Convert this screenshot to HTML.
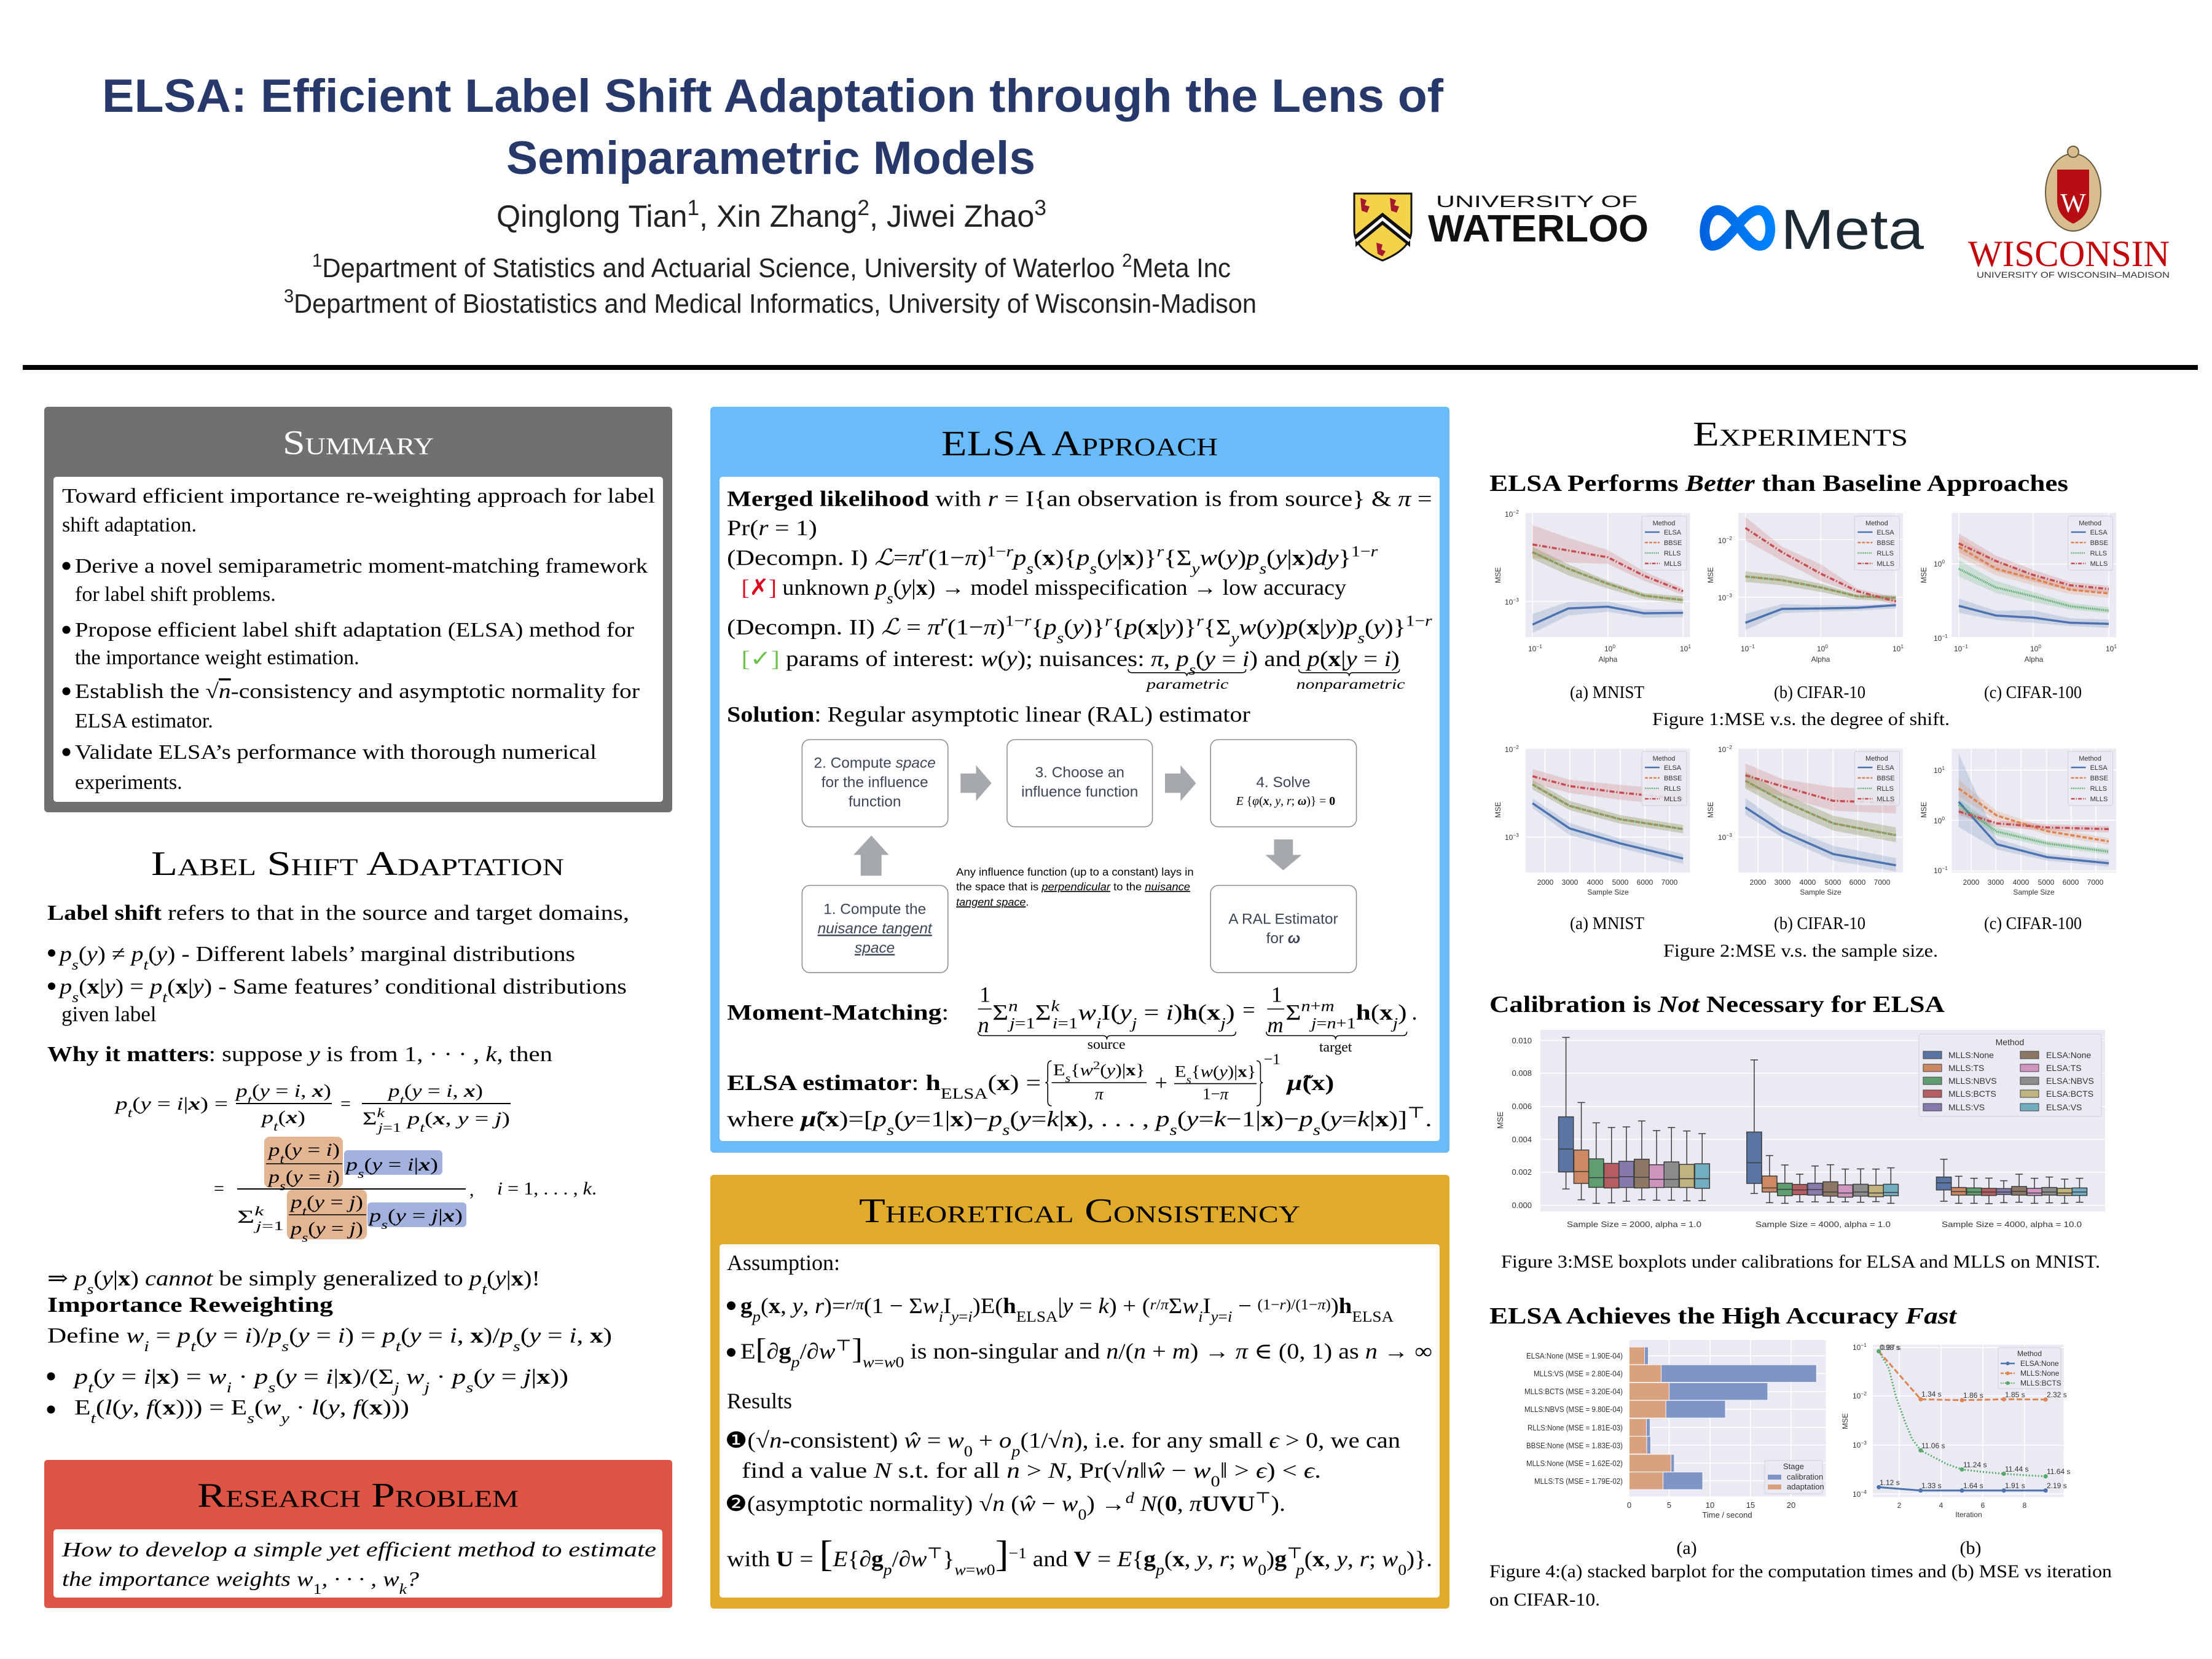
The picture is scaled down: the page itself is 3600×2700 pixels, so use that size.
<!DOCTYPE html>
<html><head><meta charset="utf-8"><title>ELSA poster</title>
<style>
html,body{margin:0;padding:0;background:#fff;}
svg{display:block;}
text{font-family:"Liberation Serif","DejaVu Serif",serif;fill:#000;}
.sans{font-family:"Liberation Sans","DejaVu Sans",sans-serif;}
.i{font-style:italic}
.b{font-weight:bold}
.sb{font-size:70%;baseline-shift:sub}
.sp{font-size:70%;baseline-shift:super}
.sc{font-variant:small-caps}
.z *{vector-effect:non-scaling-stroke}
.tk{font-family:"Liberation Sans","DejaVu Sans",sans-serif;fill:#333;}
.fc{font-family:"Liberation Sans","DejaVu Sans",sans-serif;fill:#3C4658;}
</style></head>
<body>
<svg xmlns="http://www.w3.org/2000/svg" width="3600" height="2700" viewBox="0 0 3600 2700">
<rect width="3600" height="2700" fill="#fff"/>

<!-- ================= HEADER ================= -->
<text x="166" y="182" class="sans b" font-size="76" fill="#27386A" style="fill:#27386A" textLength="2183" lengthAdjust="spacingAndGlyphs">ELSA: Efficient Label Shift Adaptation through the Lens of</text>
<text x="824" y="283" class="sans b" font-size="76" style="fill:#27386A" textLength="861" lengthAdjust="spacingAndGlyphs">Semiparametric Models</text>
<text x="808" y="369" class="sans" font-size="50" style="fill:#222" textLength="895" lengthAdjust="spacingAndGlyphs">Qinglong Tian<tspan class="sp">1</tspan>, Xin Zhang<tspan class="sp">2</tspan>, Jiwei Zhao<tspan class="sp">3</tspan></text>
<text x="508" y="451" class="sans" font-size="44" style="fill:#222" textLength="1495" lengthAdjust="spacingAndGlyphs"><tspan class="sp">1</tspan>Department of Statistics and Actuarial Science, University of Waterloo <tspan class="sp">2</tspan>Meta Inc</text>
<text x="462" y="509" class="sans" font-size="44" style="fill:#222" textLength="1583" lengthAdjust="spacingAndGlyphs"><tspan class="sp">3</tspan>Department of Biostatistics and Medical Informatics, University of Wisconsin-Madison</text>

<!-- Waterloo logo -->
<path d="M2204,315 H2297 V375 Q2297,405 2250,424 Q2204,405 2204,375 Z" fill="#F4D34B" stroke="#111" stroke-width="3"/>
<polygon points="2206,382 2250,346 2295,382 2295,402 2250,366 2206,402" fill="#111"/>
<polyline points="2207,392 2250,356 2294,392" fill="none" stroke="#fff" stroke-width="5"/>
<path d="M2214,322 l10,4 l-3,8 l8,2 l-4,10 l-9,-3 z M2262,322 l10,4 l-3,8 l8,2 l-4,10 l-9,-3 z M2240,395 l10,3 l-2,8 l7,3 l-5,8 l-8,-4 z" fill="#A6192E"/>
<text x="2337" y="337" class="sans" font-size="27" textLength="328" lengthAdjust="spacingAndGlyphs" style="fill:#111">UNIVERSITY OF</text>
<text x="2324" y="393" class="sans b" font-size="62" textLength="359" lengthAdjust="spacingAndGlyphs" style="fill:#111">WATERLOO</text>

<!-- Meta logo -->
<defs>
<linearGradient id="mg" x1="0" y1="0" x2="1" y2="0"><stop offset="0" stop-color="#0064E0"/><stop offset="1" stop-color="#0082FB"/></linearGradient>
</defs>
<path d="M2787,400 C2768,400 2770,342 2796,342 C2822,342 2842,400 2864,400 C2888,400 2886,342 2862,342 C2836,342 2812,400 2787,400 Z" fill="none" stroke="url(#mg)" stroke-width="16" stroke-linejoin="round"/>
<text x="2898" y="405" class="sans" font-size="92" textLength="233" lengthAdjust="spacingAndGlyphs" style="fill:#1C2B33">Meta</text>

<!-- Wisconsin logo -->
<ellipse cx="3374" cy="313" rx="45" ry="63" fill="#D8BE8E" stroke="#6B5B3E" stroke-width="2"/>
<circle cx="3374" cy="247" r="9" fill="#D8BE8E" stroke="#6B5B3E" stroke-width="2"/>
<path d="M3348,276 H3400 V326 Q3400,352 3374,364 Q3348,352 3348,326 Z" fill="#B70E14"/>
<text x="3374" y="345" font-size="44" text-anchor="middle" style="fill:#fff">W</text>
<text x="3203" y="433" font-size="60" textLength="328" lengthAdjust="spacingAndGlyphs" style="fill:#C5050C">WISCONSIN</text>
<text x="3217" y="452" class="sans" font-size="14" textLength="314" lengthAdjust="spacingAndGlyphs" style="fill:#333">UNIVERSITY OF WISCONSIN–MADISON</text>

<rect x="37" y="594" width="3540" height="8" fill="#000"/>

<!-- ================= LEFT COLUMN ================= -->
<!-- Summary -->
<rect x="72" y="662" width="1022" height="660" rx="6" fill="#6F706F"/>
<text x="460" y="739" font-size="56" class="sc" style="fill:#fff" textLength="246" lengthAdjust="spacingAndGlyphs">Summary</text>
<rect x="87" y="776" width="992" height="529" rx="5" fill="#fff"/>
<g font-size="34">
<text x="101" y="818" textLength="965" lengthAdjust="spacingAndGlyphs">Toward efficient importance re-weighting approach for label</text>
<text x="101" y="865">shift adaptation.</text>
<circle cx="108" cy="921" r="6.5"/>
<text x="122" y="932" textLength="932" lengthAdjust="spacingAndGlyphs">Derive a novel semiparametric moment-matching framework</text>
<text x="122" y="978">for label shift problems.</text>
<circle cx="108" cy="1025" r="6.5"/>
<text x="122" y="1036" textLength="910" lengthAdjust="spacingAndGlyphs">Propose efficient label shift adaptation (ELSA) method for</text>
<text x="122" y="1081">the importance weight estimation.</text>
<circle cx="108" cy="1125" r="6.5"/>
<text x="122" y="1136" textLength="919" lengthAdjust="spacingAndGlyphs">Establish the √<tspan class="i" text-decoration="overline">n</tspan>-consistency and asymptotic normality for</text>
<text x="122" y="1184">ELSA estimator.</text>
<circle cx="108" cy="1224" r="6.5"/>
<text x="122" y="1235" textLength="849" lengthAdjust="spacingAndGlyphs">Validate ELSA’s performance with thorough numerical</text>
<text x="122" y="1284">experiments.</text>
</g>

<!-- Label shift adaptation -->
<text x="246" y="1424" font-size="56" class="sc" textLength="672" lengthAdjust="spacingAndGlyphs">Label Shift Adaptation</text>
<g font-size="35">
<text x="77" y="1497" textLength="947" lengthAdjust="spacingAndGlyphs"><tspan class="b">Label shift</tspan> refers to that in the source and target domains,</text>
<circle cx="84" cy="1551" r="6"/>
<text x="97" y="1564" textLength="839" lengthAdjust="spacingAndGlyphs"><tspan class="i">p</tspan><tspan class="sb i">s</tspan>(<tspan class="i">y</tspan>) ≠ <tspan class="i">p</tspan><tspan class="sb i">t</tspan>(<tspan class="i">y</tspan>) - Different labels’ marginal distributions</text>
<circle cx="84" cy="1605" r="6"/>
<text x="97" y="1617" textLength="923" lengthAdjust="spacingAndGlyphs"><tspan class="i">p</tspan><tspan class="sb i">s</tspan>(<tspan class="b">x</tspan>|<tspan class="i">y</tspan>) = <tspan class="i">p</tspan><tspan class="sb i">t</tspan>(<tspan class="b">x</tspan>|<tspan class="i">y</tspan>) - Same features’ conditional distributions</text>
<text x="100" y="1662">given label</text>
<text x="77" y="1727" textLength="822" lengthAdjust="spacingAndGlyphs"><tspan class="b">Why it matters</tspan>: suppose <tspan class="i">y</tspan> is from 1, · · · , <tspan class="i">k</tspan>, then</text>
</g>
<!-- equation -->
<g font-size="30">
<text x="188" y="1806" textLength="183" lengthAdjust="spacingAndGlyphs"><tspan class="i">p</tspan><tspan class="sb i">t</tspan>(<tspan class="i">y</tspan> = <tspan class="i">i</tspan>|<tspan class="b i">x</tspan>) =</text>
<text x="384" y="1785" textLength="155" lengthAdjust="spacingAndGlyphs"><tspan class="i">p</tspan><tspan class="sb i">t</tspan>(<tspan class="i">y</tspan> = <tspan class="i">i</tspan>, <tspan class="b i">x</tspan>)</text>
<line x1="384" y1="1796" x2="540" y2="1796" stroke="#000" stroke-width="2"/>
<text x="426" y="1828" textLength="71" lengthAdjust="spacingAndGlyphs"><tspan class="i">p</tspan><tspan class="sb i">t</tspan>(<tspan class="b i">x</tspan>)</text>
<text x="554" y="1806">=</text>
<text x="632" y="1785" textLength="154" lengthAdjust="spacingAndGlyphs"><tspan class="i">p</tspan><tspan class="sb i">t</tspan>(<tspan class="i">y</tspan> = <tspan class="i">i</tspan>, <tspan class="b i">x</tspan>)</text>
<line x1="589" y1="1796" x2="831" y2="1796" stroke="#000" stroke-width="2"/>
<text x="590" y="1830" textLength="240" lengthAdjust="spacingAndGlyphs">Σ<tspan class="sp i">k</tspan><tspan class="sb" dx="-8"><tspan class="i">j</tspan>=1</tspan> <tspan class="i">p</tspan><tspan class="sb i">t</tspan>(<tspan class="b i">x</tspan>, <tspan class="i">y</tspan> = <tspan class="i">j</tspan>)</text>

<rect x="430" y="1850" width="128" height="83" rx="9" fill="#E3B592"/>
<rect x="560" y="1872" width="160" height="40" rx="6" fill="#A3B1DF"/>
<rect x="467" y="1936" width="130" height="81" rx="9" fill="#E3B592"/>
<rect x="598" y="1957" width="161" height="40" rx="6" fill="#A3B1DF"/>
<text x="437" y="1881" textLength="116" lengthAdjust="spacingAndGlyphs"><tspan class="i">p</tspan><tspan class="sb i">t</tspan>(<tspan class="i">y</tspan> = <tspan class="i">i</tspan>)</text>
<line x1="433" y1="1894" x2="557" y2="1894" stroke="#000" stroke-width="1.5"/>
<text x="437" y="1925" textLength="116" lengthAdjust="spacingAndGlyphs"><tspan class="i">p</tspan><tspan class="sb i">s</tspan>(<tspan class="i">y</tspan> = <tspan class="i">i</tspan>)</text>
<text x="563" y="1905" textLength="150" lengthAdjust="spacingAndGlyphs"><tspan class="i">p</tspan><tspan class="sb i">s</tspan>(<tspan class="i">y</tspan> = <tspan class="i">i</tspan>|<tspan class="b i">x</tspan>)</text>
<text x="348" y="1944">=</text>
<line x1="386" y1="1935" x2="758" y2="1935" stroke="#000" stroke-width="2"/>
<text x="386" y="1990" textLength="76" lengthAdjust="spacingAndGlyphs">Σ<tspan class="sp i">k</tspan><tspan class="sb" dx="-8"><tspan class="i">j</tspan>=1</tspan></text>
<text x="473" y="1966" textLength="118" lengthAdjust="spacingAndGlyphs"><tspan class="i">p</tspan><tspan class="sb i">t</tspan>(<tspan class="i">y</tspan> = <tspan class="i">j</tspan>)</text>
<line x1="470" y1="1977" x2="596" y2="1977" stroke="#000" stroke-width="1.5"/>
<text x="473" y="2009" textLength="118" lengthAdjust="spacingAndGlyphs"><tspan class="i">p</tspan><tspan class="sb i">s</tspan>(<tspan class="i">y</tspan> = <tspan class="i">j</tspan>)</text>
<text x="601" y="1988" textLength="152" lengthAdjust="spacingAndGlyphs"><tspan class="i">p</tspan><tspan class="sb i">s</tspan>(<tspan class="i">y</tspan> = <tspan class="i">j</tspan>|<tspan class="b i">x</tspan>)</text>
<text x="764" y="1946">,</text>
<text x="809" y="1944" textLength="162" lengthAdjust="spacingAndGlyphs"><tspan class="i">i</tspan> = 1, . . . , <tspan class="i">k</tspan>.</text>
</g>
<g font-size="35">
<text x="77" y="2092" textLength="802" lengthAdjust="spacingAndGlyphs">⇒ <tspan class="i">p</tspan><tspan class="sb i">s</tspan>(<tspan class="i">y</tspan>|<tspan class="b">x</tspan>) <tspan class="i">cannot</tspan> be simply generalized to <tspan class="i">p</tspan><tspan class="sb i">t</tspan>(<tspan class="i">y</tspan>|<tspan class="b">x</tspan>)!</text>
<text x="77" y="2135" class="b" textLength="465" lengthAdjust="spacingAndGlyphs">Importance Reweighting</text>
<text x="77" y="2185" textLength="919" lengthAdjust="spacingAndGlyphs">Define <tspan class="i">w</tspan><tspan class="sb i">i</tspan> = <tspan class="i">p</tspan><tspan class="sb i">t</tspan>(<tspan class="i">y</tspan> = <tspan class="i">i</tspan>)/<tspan class="i">p</tspan><tspan class="sb i">s</tspan>(<tspan class="i">y</tspan> = <tspan class="i">i</tspan>) = <tspan class="i">p</tspan><tspan class="sb i">t</tspan>(<tspan class="i">y</tspan> = <tspan class="i">i</tspan>, <tspan class="b">x</tspan>)/<tspan class="i">p</tspan><tspan class="sb i">s</tspan>(<tspan class="i">y</tspan> = <tspan class="i">i</tspan>, <tspan class="b">x</tspan>)</text>
<circle cx="83" cy="2240" r="6.5"/>
<text x="121" y="2252" textLength="804" lengthAdjust="spacingAndGlyphs"><tspan class="i">p</tspan><tspan class="sb i">t</tspan>(<tspan class="i">y</tspan> = <tspan class="i">i</tspan>|<tspan class="b">x</tspan>) = <tspan class="i">w</tspan><tspan class="sb i">i</tspan> · <tspan class="i">p</tspan><tspan class="sb i">s</tspan>(<tspan class="i">y</tspan> = <tspan class="i">i</tspan>|<tspan class="b">x</tspan>)/(Σ<tspan class="sb i">j</tspan> <tspan class="i">w</tspan><tspan class="sb i">j</tspan> · <tspan class="i">p</tspan><tspan class="sb i">s</tspan>(<tspan class="i">y</tspan> = <tspan class="i">j</tspan>|<tspan class="b">x</tspan>))</text>
<circle cx="83" cy="2294" r="6.5"/>
<text x="121" y="2302" textLength="545" lengthAdjust="spacingAndGlyphs">E<tspan class="sb i">t</tspan>(<tspan class="i">l</tspan>(<tspan class="i">y</tspan>, <tspan class="i">f</tspan>(<tspan class="b">x</tspan>))) = E<tspan class="sb i">s</tspan>(<tspan class="i">w</tspan><tspan class="sb i">y</tspan> · <tspan class="i">l</tspan>(<tspan class="i">y</tspan>, <tspan class="i">f</tspan>(<tspan class="b">x</tspan>)))</text>
</g>

<!-- Research problem -->
<rect x="72" y="2376" width="1022" height="241" rx="5" fill="#DE5546"/>
<text x="321" y="2452" font-size="56" class="sc" textLength="523" lengthAdjust="spacingAndGlyphs">Research Problem</text>
<rect x="87" y="2489" width="991" height="111" rx="5" fill="#fff"/>
<g font-size="34" class="i">
<text x="101" y="2533" textLength="967" lengthAdjust="spacingAndGlyphs">How to develop a simple yet efficient method to estimate</text>
<text x="101" y="2581" textLength="581" lengthAdjust="spacingAndGlyphs">the importance weights w<tspan class="sb" font-style="normal">1</tspan>, · · · , w<tspan class="sb">k</tspan>?</text>
</g>

<!-- ================= MIDDLE COLUMN ================= -->
<rect x="1156" y="662" width="1203" height="1214" rx="6" fill="#69BCF9"/>
<text x="1532" y="741" font-size="58" class="sc" textLength="450" lengthAdjust="spacingAndGlyphs">ELSA Approach</text>
<rect x="1171" y="776" width="1172" height="1081" rx="5" fill="#fff"/>

<g transform="translate(1150 650) scale(0.78864)" font-size="46">
<text x="42" y="220" textLength="1455" lengthAdjust="spacingAndGlyphs"><tspan class="b">Merged likelihood</tspan> with <tspan class="i">r</tspan> = I{an observation is from source} &amp; <tspan class="i">π</tspan> =</text>
<text x="42" y="280" textLength="186" lengthAdjust="spacingAndGlyphs">Pr(<tspan class="i">r</tspan> = 1)</text>
<text x="42" y="342" textLength="1343" lengthAdjust="spacingAndGlyphs">(Decompn. I) <tspan class="i">ℒ</tspan>=<tspan class="i">π</tspan><tspan class="sp i">r</tspan>(1−<tspan class="i">π</tspan>)<tspan class="sp">1−<tspan class="i">r</tspan></tspan><tspan class="i">p</tspan><tspan class="sb i">s</tspan>(<tspan class="b">x</tspan>){<tspan class="i">p</tspan><tspan class="sb i">s</tspan>(<tspan class="i">y</tspan>|<tspan class="b">x</tspan>)}<tspan class="sp i">r</tspan>{Σ<tspan class="sb i">y</tspan><tspan class="i">w</tspan>(<tspan class="i">y</tspan>)<tspan class="i">p</tspan><tspan class="sb i">s</tspan>(<tspan class="i">y</tspan>|<tspan class="b">x</tspan>)<tspan class="i">dy</tspan>}<tspan class="sp">1−<tspan class="i">r</tspan></tspan></text>
<text x="72" y="403" textLength="1248" lengthAdjust="spacingAndGlyphs"><tspan style="fill:#E0001B">[✗]</tspan> unknown <tspan class="i">p</tspan><tspan class="sb i">s</tspan>(<tspan class="i">y</tspan>|<tspan class="b">x</tspan>) → model misspecification → low accuracy</text>
<text x="42" y="485" textLength="1455" lengthAdjust="spacingAndGlyphs">(Decompn. II) <tspan class="i">ℒ</tspan> = <tspan class="i">π</tspan><tspan class="sp i">r</tspan>(1−<tspan class="i">π</tspan>)<tspan class="sp">1−<tspan class="i">r</tspan></tspan>{<tspan class="i">p</tspan><tspan class="sb i">s</tspan>(<tspan class="i">y</tspan>)}<tspan class="sp i">r</tspan>{<tspan class="i">p</tspan>(<tspan class="b">x</tspan>|<tspan class="i">y</tspan>)}<tspan class="sp i">r</tspan>{Σ<tspan class="sb i">y</tspan><tspan class="i">w</tspan>(<tspan class="i">y</tspan>)<tspan class="i">p</tspan>(<tspan class="b">x</tspan>|<tspan class="i">y</tspan>)<tspan class="i">p</tspan><tspan class="sb i">s</tspan>(<tspan class="i">y</tspan>)}<tspan class="sp">1−<tspan class="i">r</tspan></tspan></text>
<text x="72" y="550" textLength="1358" lengthAdjust="spacingAndGlyphs"><tspan style="fill:#6CC24A">[✓]</tspan> params of interest: <tspan class="i">w</tspan>(<tspan class="i">y</tspan>); nuisances: <tspan class="i">π</tspan>, <tspan class="i">p</tspan><tspan class="sb i">s</tspan>(<tspan class="i">y</tspan> = <tspan class="i">i</tspan>) and <tspan class="i">p</tspan>(<tspan class="b">x</tspan>|<tspan class="i">y</tspan> = <tspan class="i">i</tspan>)</text>
<path d="M870,557 q0,7 8,7 H983 q8,0 8,7 q0,-7 8,-7 H1105 q8,0 8,-7 M1222,557 q0,7 8,7 H1318 q8,0 8,7 q0,-7 8,-7 H1422 q8,0 8,-7" fill="none" stroke="#000" stroke-width="2"/>
<text x="908" y="597" font-size="30" class="i" textLength="169" lengthAdjust="spacingAndGlyphs">parametric</text>
<text x="1217" y="597" font-size="30" class="i" textLength="224" lengthAdjust="spacingAndGlyphs">nonparametric</text>
<text x="42" y="665" textLength="1080" lengthAdjust="spacingAndGlyphs"><tspan class="b">Solution</tspan>: Regular asymptotic linear (RAL) estimator</text>

<!-- flowchart -->
<g fill="#fff" stroke="#8E8E8E" stroke-width="2">
<rect x="197" y="702" width="301" height="180" rx="16"/>
<rect x="620" y="702" width="300" height="180" rx="16"/>
<rect x="1040" y="702" width="301" height="180" rx="16"/>
<rect x="197" y="1003" width="301" height="180" rx="16"/>
<rect x="1040" y="1003" width="301" height="180" rx="16"/>
</g>
<g fill="#A5A8AC">
<polygon points="524,772 556,772 556,755 588,792 556,829 556,812 524,812"/>
<polygon points="946,772 978,772 978,755 1010,792 978,829 978,812 946,812"/>
<polygon points="318,983 318,940 303,940 340,900 376,940 361,940 361,983"/>
<polygon points="1171,908 1210,908 1210,940 1228,940 1190,972 1153,940 1171,940"/>
</g>
<g font-size="31" text-anchor="middle">
<text x="347" y="760" class="fc">2. Compute <tspan class="i">space</tspan></text>
<text x="347" y="800" class="fc">for the influence</text>
<text x="347" y="840" class="fc">function</text>
<text x="770" y="780" class="fc">3. Choose an</text>
<text x="770" y="820" class="fc">influence function</text>
<text x="1190" y="800" class="fc">4. Solve</text>
<text x="1195" y="837" font-size="25"><tspan class="i">E</tspan> {<tspan class="i">φ</tspan>(<tspan class="b i">x</tspan>, <tspan class="i">y</tspan>, <tspan class="i">r</tspan>; <tspan class="b i">ω</tspan>)} = <tspan class="b">0</tspan></text>
<text x="347" y="1062" class="fc">1. Compute the</text>
<text x="347" y="1102" class="fc i" text-decoration="underline">nuisance tangent</text>
<text x="347" y="1142" class="fc i" text-decoration="underline">space</text>
<text x="1190" y="1082" class="fc">A RAL Estimator</text>
<text x="1190" y="1122" class="fc">for <tspan class="b i">ω</tspan></text>
</g>
<g font-size="22" class="sans">
<text x="515" y="983" class="sans" textLength="490" lengthAdjust="spacingAndGlyphs">Any influence function (up to a constant) lays in</text>
<text x="515" y="1013" class="sans" textLength="483" lengthAdjust="spacingAndGlyphs">the space that is <tspan class="i" text-decoration="underline">perpendicular</tspan> to the <tspan class="i" text-decoration="underline">nuisance</tspan></text>
<text x="515" y="1045" class="sans" textLength="150" lengthAdjust="spacingAndGlyphs"><tspan class="i" text-decoration="underline">tangent space</tspan>.</text>
</g>

<!-- moment matching -->
<text x="42" y="1280" class="b" textLength="458" lengthAdjust="spacingAndGlyphs">Moment-Matching<tspan font-weight="normal">:</tspan></text>
<text x="563" y="1243">1</text>
<line x1="560" y1="1258" x2="588" y2="1258" stroke="#000" stroke-width="2"/>
<text x="560" y="1306" class="i">n</text>
<text x="590" y="1280" textLength="500" lengthAdjust="spacingAndGlyphs">Σ<tspan class="sp i">n</tspan><tspan class="sb" dx="-14"><tspan class="i">j</tspan>=1</tspan>Σ<tspan class="sp i">k</tspan><tspan class="sb" dx="-12"><tspan class="i">i</tspan>=1</tspan><tspan class="i">w</tspan><tspan class="sb i">i</tspan>I(<tspan class="i">y</tspan><tspan class="sb i">j</tspan> = <tspan class="i">i</tspan>)<tspan class="b">h</tspan>(<tspan class="b">x</tspan><tspan class="sb i">j</tspan>)</text>
<path d="M560,1305 q0,8 8,8 H818 q8,0 8,8 q0,-8 8,-8 H1084 q8,0 8,-8" fill="none" stroke="#000" stroke-width="2"/>
<text x="825" y="1340" font-size="30" text-anchor="middle">source</text>
<text x="1106" y="1275">=</text>
<text x="1165" y="1243">1</text>
<line x1="1157" y1="1258" x2="1192" y2="1258" stroke="#000" stroke-width="2"/>
<text x="1157" y="1306" class="i">m</text>
<text x="1195" y="1280" textLength="250" lengthAdjust="spacingAndGlyphs">Σ<tspan class="sp"><tspan class="i">n</tspan>+<tspan class="i">m</tspan></tspan><tspan class="sb" dx="-40"><tspan class="i">j</tspan>=<tspan class="i">n</tspan>+1</tspan><tspan class="b">h</tspan>(<tspan class="b">x</tspan><tspan class="sb i">j</tspan>)</text>
<text x="1455" y="1280">.</text>
<path d="M1155,1305 q0,8 8,8 H1290 q8,0 8,8 q0,-8 8,-8 H1437 q8,0 8,-8" fill="none" stroke="#000" stroke-width="2"/>
<text x="1298" y="1346" font-size="30" text-anchor="middle">target</text>

<!-- ELSA estimator -->
<text x="42" y="1425" textLength="648" lengthAdjust="spacingAndGlyphs"><tspan class="b">ELSA estimator</tspan>: <tspan class="b">h</tspan><tspan class="sb">ELSA</tspan>(<tspan class="b">x</tspan>) =</text>
<path d="M712,1365 q-8,0 -8,10 V1405 q0,5 -5,5 q5,0 5,5 V1448 q0,10 8,10 M1135,1365 q8,0 8,10 V1405 q0,5 5,5 q-5,0 -5,5 V1448 q0,10 -8,10" fill="none" stroke="#000" stroke-width="2"/>
<text x="715" y="1395" font-size="34" textLength="190" lengthAdjust="spacingAndGlyphs">E<tspan class="sb i">s</tspan>{<tspan class="i">w</tspan><tspan class="sp">2</tspan>(<tspan class="i">y</tspan>)|<tspan class="b">x</tspan>}</text>
<line x1="712" y1="1410" x2="908" y2="1410" stroke="#000" stroke-width="2"/>
<text x="810" y="1444" font-size="34" text-anchor="middle" class="i">π</text>
<text x="925" y="1425">+</text>
<text x="966" y="1398" font-size="34" textLength="168" lengthAdjust="spacingAndGlyphs">E<tspan class="sb i">s</tspan>{<tspan class="i">w</tspan>(<tspan class="i">y</tspan>)|<tspan class="b">x</tspan>}</text>
<line x1="965" y1="1412" x2="1135" y2="1412" stroke="#000" stroke-width="2"/>
<text x="1050" y="1444" font-size="34" text-anchor="middle">1−<tspan class="i">π</tspan></text>
<text x="1150" y="1372" font-size="32">−1</text>
<text x="1198" y="1425" class="b" textLength="97" lengthAdjust="spacingAndGlyphs"><tspan class="i">μ̃</tspan>(x)</text>
<text x="42" y="1500" textLength="1455" lengthAdjust="spacingAndGlyphs">where <tspan class="b i">μ̃</tspan>(<tspan class="b">x</tspan>)=[<tspan class="i">p</tspan><tspan class="sb i">s</tspan>(<tspan class="i">y</tspan>=1|<tspan class="b">x</tspan>)−<tspan class="i">p</tspan><tspan class="sb i">s</tspan>(<tspan class="i">y</tspan>=<tspan class="i">k</tspan>|<tspan class="b">x</tspan>), . . . , <tspan class="i">p</tspan><tspan class="sb i">s</tspan>(<tspan class="i">y</tspan>=<tspan class="i">k</tspan>−1|<tspan class="b">x</tspan>)−<tspan class="i">p</tspan><tspan class="sb i">s</tspan>(<tspan class="i">y</tspan>=<tspan class="i">k</tspan>|<tspan class="b">x</tspan>)]<tspan class="sp">⊤</tspan>.</text>
</g>

<!-- Theoretical consistency -->
<rect x="1156" y="1912" width="1203" height="706" rx="6" fill="#E0AB2B"/>
<text x="1398" y="1989" font-size="56" class="sc" textLength="718" lengthAdjust="spacingAndGlyphs">Theoretical Consistency</text>
<rect x="1171" y="2025" width="1172" height="575" rx="5" fill="#fff"/>
<g font-size="36">
<text x="1183" y="2067">Assumption:</text>
<circle cx="1190" cy="2125" r="7"/>
<text x="1205" y="2137" textLength="1063" lengthAdjust="spacingAndGlyphs"><tspan class="b">g</tspan><tspan class="sb i">p</tspan>(<tspan class="b">x</tspan>, <tspan class="i">y</tspan>, <tspan class="i">r</tspan>)=<tspan font-size="24" baseline-shift="6"><tspan class="i">r</tspan>/<tspan class="i">π</tspan></tspan>(1 − Σ<tspan class="i">w</tspan><tspan class="sb i">i</tspan>I<tspan class="sb"><tspan class="i">y</tspan>=<tspan class="i">i</tspan></tspan>)E(<tspan class="b">h</tspan><tspan class="sb">ELSA</tspan>|<tspan class="i">y</tspan> = <tspan class="i">k</tspan>) + (<tspan font-size="24" baseline-shift="6"><tspan class="i">r</tspan>/<tspan class="i">π</tspan></tspan>Σ<tspan class="i">w</tspan><tspan class="sb i">i</tspan>I<tspan class="sb"><tspan class="i">y</tspan>=<tspan class="i">i</tspan></tspan> − <tspan font-size="24" baseline-shift="6">(1−<tspan class="i">r</tspan>)/(1−<tspan class="i">π</tspan>)</tspan>)<tspan class="b">h</tspan><tspan class="sb">ELSA</tspan></text>
<circle cx="1190" cy="2201" r="7"/>
<text x="1205" y="2211" textLength="1126" lengthAdjust="spacingAndGlyphs">E<tspan font-size="48">[</tspan>∂<tspan class="b">g</tspan><tspan class="sb i">p</tspan>/∂<tspan class="i">w</tspan><tspan class="sp">⊤</tspan><tspan font-size="48">]</tspan><tspan class="sb"><tspan class="i">w</tspan>=<tspan class="i">w</tspan>0</tspan> is non-singular and <tspan class="i">n</tspan>/(<tspan class="i">n</tspan> + <tspan class="i">m</tspan>) → <tspan class="i">π</tspan> ∈ (0, 1) as <tspan class="i">n</tspan> → ∞</text>
<text x="1183" y="2292">Results</text>
<text x="1180" y="2356" textLength="1099" lengthAdjust="spacingAndGlyphs">❶(√<tspan class="i">n</tspan>-consistent) <tspan class="i">ŵ</tspan> = <tspan class="i">w</tspan><tspan class="sb">0</tspan> + <tspan class="i">o</tspan><tspan class="sb i">p</tspan>(1/√<tspan class="i">n</tspan>), i.e. for any small <tspan class="i">ϵ</tspan> &gt; 0, we can</text>
<text x="1207" y="2405" textLength="943" lengthAdjust="spacingAndGlyphs">find a value <tspan class="i">N</tspan> s.t. for all <tspan class="i">n</tspan> &gt; <tspan class="i">N</tspan>, Pr(√<tspan class="i">n</tspan>‖<tspan class="i">ŵ</tspan> − <tspan class="i">w</tspan><tspan class="sb">0</tspan>‖ &gt; <tspan class="i">ϵ</tspan>) &lt; <tspan class="i">ϵ</tspan>.</text>
<text x="1180" y="2459" textLength="912" lengthAdjust="spacingAndGlyphs">❷(asymptotic normality) √<tspan class="i">n</tspan> (<tspan class="i">ŵ</tspan> − <tspan class="i">w</tspan><tspan class="sb">0</tspan>) →<tspan class="sp i">d</tspan> <tspan class="i">N</tspan>(<tspan class="b">0</tspan>, <tspan class="i">π</tspan><tspan class="b">UVU</tspan><tspan class="sp">⊤</tspan>).</text>
<text x="1183" y="2549" textLength="1148" lengthAdjust="spacingAndGlyphs">with <tspan class="b">U</tspan> = <tspan font-size="60">[</tspan><tspan class="i">E</tspan>{∂<tspan class="b">g</tspan><tspan class="sb i">p</tspan>/∂<tspan class="i">w</tspan><tspan class="sp">⊤</tspan>}<tspan class="sb"><tspan class="i">w</tspan>=<tspan class="i">w</tspan>0</tspan><tspan font-size="60">]</tspan><tspan class="sp">−1</tspan>  and <tspan class="b">V</tspan> = <tspan class="i">E</tspan>{<tspan class="b">g</tspan><tspan class="sb i">p</tspan>(<tspan class="b">x</tspan>, <tspan class="i">y</tspan>, <tspan class="i">r</tspan>; <tspan class="i">w</tspan><tspan class="sb">0</tspan>)<tspan class="b">g</tspan><tspan class="sp">⊤</tspan><tspan class="sb i" dx="-10">p</tspan>(<tspan class="b">x</tspan>, <tspan class="i">y</tspan>, <tspan class="i">r</tspan>; <tspan class="i">w</tspan><tspan class="sb">0</tspan>)}.</text>
</g>

<!-- ================= RIGHT COLUMN ================= -->
<text x="2755" y="725" font-size="56" class="sc" textLength="350" lengthAdjust="spacingAndGlyphs">Experiments</text>
<text x="2424" y="799" font-size="38" class="b" textLength="942" lengthAdjust="spacingAndGlyphs">ELSA Performs <tspan class="i">Better</tspan> than Baseline Approaches</text>

<!-- Figure 1 -->
<g transform="translate(2420 660) scale(0.75643 0.35894)" class="z">
<rect x="83" y="487" width="354" height="563" fill="#EAEAF2"/>
<rect x="541" y="487" width="354" height="563" fill="#EAEAF2"/>
<rect x="1000" y="487" width="354" height="563" fill="#EAEAF2"/>
<path d="M98 487V1050M260 487V1050M422 487V1050M83 888H437M556 487V1050M718 487V1050M880 487V1050M541 608H895M541 870H895M1015 487V1050M1175 487V1050M1338 487V1050M1000 718H1354M1000 1052H1354" stroke="#fff" stroke-width="1.5" fill="none"/>
<!-- a -->
<polygon points="98,945 175,890 260,888 338,925 422,925 422,960 338,962 260,935 175,952 98,1032" fill="#4C72B0" fill-opacity="0.2"/>
<polygon points="98,542 175,600 260,655 338,752 422,828 422,858 338,795 260,718 175,712 98,690" fill="#C44E52" fill-opacity="0.2"/>
<polygon points="98,640 175,720 260,795 338,850 422,865 422,898 338,878 260,830 175,770 98,695" fill="#DD8452" fill-opacity="0.2"/>
<polygon points="98,640 175,720 260,795 338,850 422,865 422,898 338,878 260,830 175,770 98,695" fill="#55A868" fill-opacity="0.2"/>
<polyline points="98,993 175,920 260,912 338,942 422,940" fill="none" stroke="#4C72B0" stroke-width="3.5"/>
<polyline points="98,665 175,740 260,808 338,862 422,882" fill="none" stroke="#DD8452" stroke-width="3.5" stroke-dasharray="7 3"/>
<polyline points="98,665 175,740 260,808 338,862 422,882" fill="none" stroke="#55A868" stroke-width="3.5" stroke-dasharray="1.5 1.5"/>
<polyline points="98,630 175,657 260,688 338,772 422,842" fill="none" stroke="#C44E52" stroke-width="3.5" stroke-dasharray="8 3 2 3"/>
<!-- b -->
<polygon points="556,945 635,900 718,905 797,905 880,898 880,920 797,930 718,935 635,942 556,1018" fill="#4C72B0" fill-opacity="0.2"/>
<polygon points="556,505 635,640 718,720 797,830 880,870 880,905 797,855 718,795 635,705 556,610" fill="#C44E52" fill-opacity="0.2"/>
<polygon points="556,752 635,770 718,808 797,857 880,860 880,888 797,880 718,845 635,815 556,800" fill="#DD8452" fill-opacity="0.2"/>
<polygon points="556,752 635,770 718,808 797,857 880,860 880,888 797,880 718,845 635,815 556,800" fill="#55A868" fill-opacity="0.2"/>
<polyline points="556,985 635,922 718,920 797,917 880,905" fill="none" stroke="#4C72B0" stroke-width="3.5"/>
<polyline points="556,775 635,792 718,825 797,865 880,872" fill="none" stroke="#DD8452" stroke-width="3.5" stroke-dasharray="7 3"/>
<polyline points="556,775 635,792 718,825 797,865 880,872" fill="none" stroke="#55A868" stroke-width="3.5" stroke-dasharray="1.5 1.5"/>
<polyline points="556,555 635,665 718,762 797,842 880,888" fill="none" stroke="#C44E52" stroke-width="3.5" stroke-dasharray="8 3 2 3"/>
<!-- c -->
<polygon points="1015,875 1095,930 1175,928 1255,965 1338,970 1338,1008 1255,1000 1175,985 1095,972 1015,940" fill="#4C72B0" fill-opacity="0.2"/>
<polygon points="1015,580 1095,680 1175,745 1255,800 1338,818 1338,850 1255,838 1175,800 1095,750 1015,665" fill="#C44E52" fill-opacity="0.2"/>
<polygon points="1015,600 1095,700 1175,770 1255,820 1338,838 1338,872 1255,855 1175,815 1095,770 1015,685" fill="#DD8452" fill-opacity="0.2"/>
<polygon points="1015,700 1095,795 1175,845 1255,895 1338,915 1338,942 1255,925 1175,890 1095,850 1015,775" fill="#55A868" fill-opacity="0.2"/>
<polyline points="1015,908 1095,952 1175,962 1255,985 1338,990" fill="none" stroke="#4C72B0" stroke-width="3.5"/>
<polyline points="1015,640 1095,740 1175,785 1255,835 1338,852" fill="none" stroke="#DD8452" stroke-width="3.5" stroke-dasharray="7 3"/>
<polyline points="1015,740 1095,825 1175,865 1255,910 1338,930" fill="none" stroke="#55A868" stroke-width="3.5" stroke-dasharray="1.5 1.5"/>
<polyline points="1015,625 1095,705 1175,768 1255,815 1338,832" fill="none" stroke="#C44E52" stroke-width="3.5" stroke-dasharray="8 3 2 3"/>
</g>
<!-- Fig1 legends -->
<g id="lg1">
<rect x="2672" y="840" width="73" height="88" rx="3" fill="#EAEAF2" fill-opacity="0.85" stroke="#CFCFD8"/>
<text x="2708" y="855" font-size="11" text-anchor="middle" class="tk">Method</text>
<line x1="2677" y1="866" x2="2701" y2="866" stroke="#4C72B0" stroke-width="2.5"/>
<line x1="2677" y1="883" x2="2701" y2="883" stroke="#DD8452" stroke-width="2.5" stroke-dasharray="5 2"/>
<line x1="2677" y1="900" x2="2701" y2="900" stroke="#55A868" stroke-width="2.5" stroke-dasharray="1.5 1.5"/>
<line x1="2677" y1="917" x2="2701" y2="917" stroke="#C44E52" stroke-width="2.5" stroke-dasharray="6 2 1.5 2"/>
<text x="2708" y="870" font-size="11" class="tk">ELSA</text>
<text x="2708" y="887" font-size="11" class="tk">BBSE</text>
<text x="2708" y="904" font-size="11" class="tk">RLLS</text>
<text x="2708" y="921" font-size="11" class="tk">MLLS</text>
</g>
<g transform="translate(346.4 0)">
<rect x="2672" y="840" width="73" height="88" rx="3" fill="#EAEAF2" fill-opacity="0.85" stroke="#CFCFD8"/>
<text x="2708" y="855" font-size="11" text-anchor="middle" class="tk">Method</text>
<line x1="2677" y1="866" x2="2701" y2="866" stroke="#4C72B0" stroke-width="2.5"/>
<line x1="2677" y1="883" x2="2701" y2="883" stroke="#DD8452" stroke-width="2.5" stroke-dasharray="5 2"/>
<line x1="2677" y1="900" x2="2701" y2="900" stroke="#55A868" stroke-width="2.5" stroke-dasharray="1.5 1.5"/>
<line x1="2677" y1="917" x2="2701" y2="917" stroke="#C44E52" stroke-width="2.5" stroke-dasharray="6 2 1.5 2"/>
<text x="2708" y="870" font-size="11" class="tk">ELSA</text>
<text x="2708" y="887" font-size="11" class="tk">BBSE</text>
<text x="2708" y="904" font-size="11" class="tk">RLLS</text>
<text x="2708" y="921" font-size="11" class="tk">MLLS</text>
</g>
<g transform="translate(693.6 0)">
<rect x="2672" y="840" width="73" height="88" rx="3" fill="#EAEAF2" fill-opacity="0.85" stroke="#CFCFD8"/>
<text x="2708" y="855" font-size="11" text-anchor="middle" class="tk">Method</text>
<line x1="2677" y1="866" x2="2701" y2="866" stroke="#4C72B0" stroke-width="2.5"/>
<line x1="2677" y1="883" x2="2701" y2="883" stroke="#DD8452" stroke-width="2.5" stroke-dasharray="5 2"/>
<line x1="2677" y1="900" x2="2701" y2="900" stroke="#55A868" stroke-width="2.5" stroke-dasharray="1.5 1.5"/>
<line x1="2677" y1="917" x2="2701" y2="917" stroke="#C44E52" stroke-width="2.5" stroke-dasharray="6 2 1.5 2"/>
<text x="2708" y="870" font-size="11" class="tk">ELSA</text>
<text x="2708" y="887" font-size="11" class="tk">BBSE</text>
<text x="2708" y="904" font-size="11" class="tk">RLLS</text>
<text x="2708" y="921" font-size="11" class="tk">MLLS</text>
</g>
<!-- Fig1 ticks -->
<g font-size="12" class="tk">
<text x="2449" y="841" class="tk">10<tspan class="sp">−2</tspan></text>
<text x="2449" y="984" class="tk">10<tspan class="sp">−3</tspan></text>
<text x="2796" y="884" class="tk">10<tspan class="sp">−2</tspan></text>
<text x="2796" y="977" class="tk">10<tspan class="sp">−3</tspan></text>
<text x="3147" y="922" class="tk">10<tspan class="sp">0</tspan></text>
<text x="3147" y="1043" class="tk">10<tspan class="sp">−1</tspan></text>
<text x="2487" y="1060" class="tk">10<tspan class="sp">−1</tspan></text>
<text x="2611" y="1060" class="tk">10<tspan class="sp">0</tspan></text>
<text x="2734" y="1060" class="tk">10<tspan class="sp">1</tspan></text>
<text x="2833" y="1060" class="tk">10<tspan class="sp">−1</tspan></text>
<text x="2957" y="1060" class="tk">10<tspan class="sp">0</tspan></text>
<text x="3080" y="1060" class="tk">10<tspan class="sp">1</tspan></text>
<text x="3180" y="1060" class="tk">10<tspan class="sp">−1</tspan></text>
<text x="3304" y="1060" class="tk">10<tspan class="sp">0</tspan></text>
<text x="3427" y="1060" class="tk">10<tspan class="sp">1</tspan></text>
<text x="2617" y="1077" text-anchor="middle" class="tk">Alpha</text>
<text x="2963" y="1077" text-anchor="middle" class="tk">Alpha</text>
<text x="3310" y="1077" text-anchor="middle" class="tk">Alpha</text>
<text transform="translate(2442 936) rotate(-90)" text-anchor="middle" class="tk">MSE</text>
<text transform="translate(2788 936) rotate(-90)" text-anchor="middle" class="tk">MSE</text>
<text transform="translate(3135 936) rotate(-90)" text-anchor="middle" class="tk">MSE</text>
</g>
<g font-size="28">
<text x="2555" y="1136" textLength="121" lengthAdjust="spacingAndGlyphs">(a) MNIST</text>
<text x="2887" y="1136" textLength="149" lengthAdjust="spacingAndGlyphs">(b) CIFAR-10</text>
<text x="3229" y="1136" textLength="159" lengthAdjust="spacingAndGlyphs">(c) CIFAR-100</text>
</g>
<text x="2689" y="1180" font-size="30" textLength="484" lengthAdjust="spacingAndGlyphs">Figure 1:MSE v.s. the degree of shift.</text>

<!-- Figure 2 -->
<g transform="translate(2420 1200) scale(0.75643 0.33333)" class="z">
<rect x="83" y="55" width="354" height="605" fill="#EAEAF2"/>
<rect x="541" y="55" width="354" height="605" fill="#EAEAF2"/>
<rect x="1000" y="55" width="354" height="605" fill="#EAEAF2"/>
<path d="M125 55V660M178 55V660M232 55V660M287 55V660M340 55V660M393 55V660M83 487H437M583 55V660M636 55V660M690 55V660M745 55V660M798 55V660M851 55V660M541 487H895M1042 55V660M1095 55V660M1149 55V660M1204 55V660M1257 55V660M1310 55V660M1000 160H1354M1000 405H1354M1000 652H1354" stroke="#fff" stroke-width="1.5" fill="none"/>
<!-- a -->
<polygon points="98,298 178,418 287,495 422,570 422,618 287,540 178,478 98,345" fill="#4C72B0" fill-opacity="0.2"/>
<polygon points="98,155 178,207 287,232 422,260 422,335 287,305 178,272 98,225" fill="#C44E52" fill-opacity="0.2"/>
<polygon points="98,208 178,310 287,380 422,428 422,468 287,422 178,355 98,255" fill="#DD8452" fill-opacity="0.2"/>
<polygon points="98,208 178,310 287,380 422,428 422,468 287,422 178,355 98,255" fill="#55A868" fill-opacity="0.2"/>
<polyline points="98,322 178,445 287,518 422,592" fill="none" stroke="#4C72B0" stroke-width="3.5"/>
<polyline points="98,230 178,335 287,400 422,448" fill="none" stroke="#DD8452" stroke-width="3.5" stroke-dasharray="7 3"/>
<polyline points="98,230 178,335 287,400 422,448" fill="none" stroke="#55A868" stroke-width="3.5" stroke-dasharray="1.5 1.5"/>
<polyline points="98,190 178,238 287,270 422,300" fill="none" stroke="#C44E52" stroke-width="3.5" stroke-dasharray="8 3 2 3"/>
<!-- b -->
<polygon points="556,295 637,432 745,530 880,590 880,655 745,602 637,490 556,378" fill="#4C72B0" fill-opacity="0.2"/>
<polygon points="556,128 637,205 745,243 880,255 880,372 745,358 637,290 556,240" fill="#C44E52" fill-opacity="0.2"/>
<polygon points="556,168 637,275 745,383 880,440 880,512 745,455 637,350 556,250" fill="#DD8452" fill-opacity="0.2"/>
<polygon points="556,168 637,275 745,383 880,440 880,512 745,455 637,350 556,250" fill="#55A868" fill-opacity="0.2"/>
<polyline points="556,342 637,462 745,570 880,625" fill="none" stroke="#4C72B0" stroke-width="3.5"/>
<polyline points="556,212 637,312 745,420 880,478" fill="none" stroke="#DD8452" stroke-width="3.5" stroke-dasharray="7 3"/>
<polyline points="556,212 637,312 745,420 880,478" fill="none" stroke="#55A868" stroke-width="3.5" stroke-dasharray="1.5 1.5"/>
<polyline points="556,185 637,240 745,310 880,320" fill="none" stroke="#C44E52" stroke-width="3.5" stroke-dasharray="8 3 2 3"/>
<!-- c -->
<polygon points="1015,80 1097,495 1205,568 1338,598 1338,632 1205,602 1097,548 1015,438" fill="#4C72B0" fill-opacity="0.2"/>
<polygon points="1015,208 1097,360 1205,440 1338,492 1338,525 1205,475 1097,405 1015,290" fill="#DD8452" fill-opacity="0.2"/>
<polygon points="1015,300 1097,440 1205,505 1338,545 1338,572 1205,535 1097,480 1015,360" fill="#55A868" fill-opacity="0.2"/>
<polygon points="1015,345 1097,405 1205,425 1338,432 1338,465 1205,455 1097,438 1015,380" fill="#C44E52" fill-opacity="0.2"/>
<polyline points="1015,315 1097,522 1205,585 1338,615" fill="none" stroke="#4C72B0" stroke-width="3.5"/>
<polyline points="1015,250 1097,382 1205,458 1338,508" fill="none" stroke="#DD8452" stroke-width="3.5" stroke-dasharray="7 3"/>
<polyline points="1015,330 1097,460 1205,518 1338,558" fill="none" stroke="#55A868" stroke-width="3.5" stroke-dasharray="1.5 1.5"/>
<polyline points="1015,362 1097,420 1205,440 1338,448" fill="none" stroke="#C44E52" stroke-width="3.5" stroke-dasharray="8 3 2 3"/>
</g>
<g transform="translate(0 383)">
<rect x="2672" y="840" width="73" height="88" rx="3" fill="#EAEAF2" fill-opacity="0.85" stroke="#CFCFD8"/>
<text x="2708" y="855" font-size="11" text-anchor="middle" class="tk">Method</text>
<line x1="2677" y1="866" x2="2701" y2="866" stroke="#4C72B0" stroke-width="2.5"/>
<line x1="2677" y1="883" x2="2701" y2="883" stroke="#DD8452" stroke-width="2.5" stroke-dasharray="5 2"/>
<line x1="2677" y1="900" x2="2701" y2="900" stroke="#55A868" stroke-width="2.5" stroke-dasharray="1.5 1.5"/>
<line x1="2677" y1="917" x2="2701" y2="917" stroke="#C44E52" stroke-width="2.5" stroke-dasharray="6 2 1.5 2"/>
<text x="2708" y="870" font-size="11" class="tk">ELSA</text>
<text x="2708" y="887" font-size="11" class="tk">BBSE</text>
<text x="2708" y="904" font-size="11" class="tk">RLLS</text>
<text x="2708" y="921" font-size="11" class="tk">MLLS</text>
</g>
<g transform="translate(346.4 383)">
<rect x="2672" y="840" width="73" height="88" rx="3" fill="#EAEAF2" fill-opacity="0.85" stroke="#CFCFD8"/>
<text x="2708" y="855" font-size="11" text-anchor="middle" class="tk">Method</text>
<line x1="2677" y1="866" x2="2701" y2="866" stroke="#4C72B0" stroke-width="2.5"/>
<line x1="2677" y1="883" x2="2701" y2="883" stroke="#DD8452" stroke-width="2.5" stroke-dasharray="5 2"/>
<line x1="2677" y1="900" x2="2701" y2="900" stroke="#55A868" stroke-width="2.5" stroke-dasharray="1.5 1.5"/>
<line x1="2677" y1="917" x2="2701" y2="917" stroke="#C44E52" stroke-width="2.5" stroke-dasharray="6 2 1.5 2"/>
<text x="2708" y="870" font-size="11" class="tk">ELSA</text>
<text x="2708" y="887" font-size="11" class="tk">BBSE</text>
<text x="2708" y="904" font-size="11" class="tk">RLLS</text>
<text x="2708" y="921" font-size="11" class="tk">MLLS</text>
</g>
<g transform="translate(693.6 383)">
<rect x="2672" y="840" width="73" height="88" rx="3" fill="#EAEAF2" fill-opacity="0.85" stroke="#CFCFD8"/>
<text x="2708" y="855" font-size="11" text-anchor="middle" class="tk">Method</text>
<line x1="2677" y1="866" x2="2701" y2="866" stroke="#4C72B0" stroke-width="2.5"/>
<line x1="2677" y1="883" x2="2701" y2="883" stroke="#DD8452" stroke-width="2.5" stroke-dasharray="5 2"/>
<line x1="2677" y1="900" x2="2701" y2="900" stroke="#55A868" stroke-width="2.5" stroke-dasharray="1.5 1.5"/>
<line x1="2677" y1="917" x2="2701" y2="917" stroke="#C44E52" stroke-width="2.5" stroke-dasharray="6 2 1.5 2"/>
<text x="2708" y="870" font-size="11" class="tk">ELSA</text>
<text x="2708" y="887" font-size="11" class="tk">BBSE</text>
<text x="2708" y="904" font-size="11" class="tk">RLLS</text>
<text x="2708" y="921" font-size="11" class="tk">MLLS</text>
</g>
<g font-size="12" class="tk">
<text x="2449" y="1224" class="tk">10<tspan class="sp">−2</tspan></text>
<text x="2449" y="1367" class="tk">10<tspan class="sp">−3</tspan></text>
<text x="2796" y="1224" class="tk">10<tspan class="sp">−2</tspan></text>
<text x="2796" y="1367" class="tk">10<tspan class="sp">−3</tspan></text>
<text x="3147" y="1258" class="tk">10<tspan class="sp">1</tspan></text>
<text x="3147" y="1340" class="tk">10<tspan class="sp">0</tspan></text>
<text x="3147" y="1421" class="tk">10<tspan class="sp">−1</tspan></text>
<g text-anchor="middle">
<text x="2515" y="1440" class="tk">2000</text><text x="2555" y="1440" class="tk">3000</text><text x="2596" y="1440" class="tk">4000</text><text x="2637" y="1440" class="tk">5000</text><text x="2677" y="1440" class="tk">6000</text><text x="2717" y="1440" class="tk">7000</text>
<text x="2861" y="1440" class="tk">2000</text><text x="2901" y="1440" class="tk">3000</text><text x="2942" y="1440" class="tk">4000</text><text x="2983" y="1440" class="tk">5000</text><text x="3023" y="1440" class="tk">6000</text><text x="3063" y="1440" class="tk">7000</text>
<text x="3208" y="1440" class="tk">2000</text><text x="3248" y="1440" class="tk">3000</text><text x="3289" y="1440" class="tk">4000</text><text x="3330" y="1440" class="tk">5000</text><text x="3370" y="1440" class="tk">6000</text><text x="3410" y="1440" class="tk">7000</text>
<text x="2617" y="1456" class="tk">Sample Size</text>
<text x="2963" y="1456" class="tk">Sample Size</text>
<text x="3310" y="1456" class="tk">Sample Size</text>
</g>
<text transform="translate(2442 1318) rotate(-90)" text-anchor="middle" class="tk">MSE</text>
<text transform="translate(2788 1318) rotate(-90)" text-anchor="middle" class="tk">MSE</text>
<text transform="translate(3135 1318) rotate(-90)" text-anchor="middle" class="tk">MSE</text>
</g>
<g font-size="28">
<text x="2555" y="1512" textLength="121" lengthAdjust="spacingAndGlyphs">(a) MNIST</text>
<text x="2887" y="1512" textLength="149" lengthAdjust="spacingAndGlyphs">(b) CIFAR-10</text>
<text x="3229" y="1512" textLength="159" lengthAdjust="spacingAndGlyphs">(c) CIFAR-100</text>
</g>
<text x="2707" y="1557" font-size="30" textLength="447" lengthAdjust="spacingAndGlyphs">Figure 2:MSE v.s. the sample size.</text>

<!-- Figure 3 -->
<text x="2424" y="1647" font-size="38" class="b" textLength="741" lengthAdjust="spacingAndGlyphs">Calibration is <tspan class="i">Not</tspan> Necessary for ELSA</text>
<g transform="translate(2420 1600) scale(0.75643 0.33333)" class="z">
<rect x="115" y="228" width="1215" height="887" fill="#EAEAF2"/>
<path d="M115 280H1330M115 440H1330M115 602H1330M115 763H1330M115 923H1330M115 1085H1330" stroke="#fff" stroke-width="1.5" fill="none"/>
<g stroke="#3D3D3D" stroke-width="1.5">
<rect x="154" y="653" width="32" height="269" fill="#5975A4"/><path d="M170 265V653M170 922V1005M162 265H178M162 1005H178M154 810H186" fill="none"/>
<rect x="187" y="815" width="32" height="163" fill="#CC8963"/><path d="M203 583V815M203 978V1058M195 583H211M195 1058H211M187 920H219" fill="none"/>
<rect x="219" y="858" width="32" height="139" fill="#5F9E6E"/><path d="M235 682V858M235 997V1075M227 682H243M227 1075H243M219 950H251" fill="none"/>
<rect x="252" y="880" width="32" height="120" fill="#B55D60"/><path d="M268 705V880M268 1000V1073M260 705H276M260 1073H276M252 950H284" fill="none"/>
<rect x="284" y="870" width="32" height="128" fill="#857AAB"/><path d="M300 702V870M300 998V1065M292 702H308M292 1065H308M284 945H316" fill="none"/>
<rect x="317" y="860" width="32" height="140" fill="#8D7866"/><path d="M333 673V860M333 1000V1058M325 673H341M325 1058H341M317 948H349" fill="none"/>
<rect x="349" y="887" width="32" height="111" fill="#D095BF"/><path d="M365 720V887M365 998V1060M357 720H373M357 1060H373M349 958H381" fill="none"/>
<rect x="381" y="873" width="32" height="124" fill="#8C8C8C"/><path d="M397 705V873M397 997V1060M389 705H405M389 1060H405M381 958H413" fill="none"/>
<rect x="414" y="885" width="32" height="113" fill="#C1B37F"/><path d="M430 722V885M430 998V1063M422 722H438M422 1063H438M414 955H446" fill="none"/>
<rect x="447" y="882" width="32" height="120" fill="#71AEC0"/><path d="M463 735V882M463 1002V1062M455 735H471M455 1062H471M447 955H479" fill="none"/>

<rect x="559" y="727" width="32" height="251" fill="#5975A4"/><path d="M575 375V727M575 978V1027M567 375H583M567 1027H583M559 877H591" fill="none"/>
<rect x="592" y="942" width="32" height="78" fill="#CC8963"/><path d="M608 842V942M608 1020V1072M600 842H616M600 1072H616M592 1000H624" fill="none"/>
<rect x="625" y="977" width="32" height="61" fill="#5F9E6E"/><path d="M641 888V977M641 1038V1075M633 888H649M633 1075H649M625 1007H657" fill="none"/>
<rect x="657" y="983" width="32" height="50" fill="#B55D60"/><path d="M673 933V983M673 1033V1068M665 933H681M665 1068H681M657 1010H689" fill="none"/>
<rect x="690" y="977" width="32" height="58" fill="#857AAB"/><path d="M706 893V977M706 1035V1068M698 893H714M698 1068H714M690 1008H722" fill="none"/>
<rect x="723" y="970" width="32" height="70" fill="#8D7866"/><path d="M739 887V970M739 1040V1070M731 887H747M731 1070H747M723 1020H755" fill="none"/>
<rect x="755" y="985" width="32" height="60" fill="#D095BF"/><path d="M771 908V985M771 1045V1068M763 908H779M763 1068H779M755 1025H787" fill="none"/>
<rect x="788" y="982" width="32" height="58" fill="#8C8C8C"/><path d="M804 907V982M804 1040V1070M796 907H812M796 1070H812M788 1020H820" fill="none"/>
<rect x="821" y="987" width="32" height="56" fill="#C1B37F"/><path d="M837 908V987M837 1043V1067M829 908H845M829 1067H845M821 1025H853" fill="none"/>
<rect x="853" y="982" width="32" height="56" fill="#71AEC0"/><path d="M869 902V982M869 1038V1075M861 902H877M861 1075H877M853 1022H885" fill="none"/>

<rect x="967" y="947" width="32" height="63" fill="#5975A4"/><path d="M983 860V947M983 1010V1065M975 860H991M975 1065H991M967 975H999" fill="none"/>
<rect x="999" y="998" width="32" height="37" fill="#CC8963"/><path d="M1015 943V998M1015 1035V1075M1007 943H1023M1007 1075H1023M999 1018H1031" fill="none"/>
<rect x="1032" y="1000" width="32" height="35" fill="#5F9E6E"/><path d="M1048 953V1000M1048 1035V1075M1040 953H1056M1040 1075H1056M1032 1020H1064" fill="none"/>
<rect x="1064" y="1002" width="32" height="35" fill="#B55D60"/><path d="M1080 952V1002M1080 1037V1077M1072 952H1088M1072 1077H1088M1064 1020H1096" fill="none"/>
<rect x="1096" y="1003" width="32" height="29" fill="#857AAB"/><path d="M1112 965V1003M1112 1032V1072M1104 965H1120M1104 1072H1120M1096 1020H1128" fill="none"/>
<rect x="1129" y="993" width="32" height="42" fill="#8D7866"/><path d="M1145 933V993M1145 1035V1070M1137 933H1153M1137 1070H1153M1129 1017H1161" fill="none"/>
<rect x="1162" y="1002" width="32" height="35" fill="#D095BF"/><path d="M1178 953V1002M1178 1037V1075M1170 953H1186M1170 1075H1186M1162 1025H1194" fill="none"/>
<rect x="1194" y="998" width="32" height="37" fill="#8C8C8C"/><path d="M1210 947V998M1210 1035V1073M1202 947H1218M1202 1073H1218M1194 1020H1226" fill="none"/>
<rect x="1227" y="1002" width="32" height="35" fill="#C1B37F"/><path d="M1243 957V1002M1243 1037V1075M1235 957H1251M1235 1075H1251M1227 1025H1259" fill="none"/>
<rect x="1259" y="1000" width="32" height="37" fill="#71AEC0"/><path d="M1275 953V1000M1275 1037V1070M1267 953H1283M1267 1070H1283M1259 1020H1291" fill="none"/>
</g>
</g>
<g font-size="13" class="tk">
<text x="2493" y="1698" text-anchor="end" class="tk">0.010</text>
<text x="2493" y="1751" text-anchor="end" class="tk">0.008</text>
<text x="2493" y="1805" text-anchor="end" class="tk">0.006</text>
<text x="2493" y="1859" text-anchor="end" class="tk">0.004</text>
<text x="2493" y="1912" text-anchor="end" class="tk">0.002</text>
<text x="2493" y="1966" text-anchor="end" class="tk">0.000</text>
<text transform="translate(2446 1823) rotate(-90)" text-anchor="middle" class="tk">MSE</text>
<text x="2550" y="1997" class="tk" textLength="219" lengthAdjust="spacingAndGlyphs">Sample Size = 2000, alpha = 1.0</text>
<text x="2857" y="1997" class="tk" textLength="220" lengthAdjust="spacingAndGlyphs">Sample Size = 4000, alpha = 1.0</text>
<text x="3160" y="1997" class="tk" textLength="228" lengthAdjust="spacingAndGlyphs">Sample Size = 4000, alpha = 10.0</text>
<rect x="3123" y="1683" width="297" height="134" rx="3" fill="#EAEAF2" stroke="#D0D0D8"/>
<text x="3271" y="1701" text-anchor="middle" font-size="14" class="tk">Method</text>
<g stroke="#444" stroke-width="1">
<rect x="3130" y="1711" width="30" height="12" fill="#5975A4"/>
<rect x="3130" y="1732" width="30" height="12" fill="#CC8963"/>
<rect x="3130" y="1753" width="30" height="12" fill="#5F9E6E"/>
<rect x="3130" y="1774" width="30" height="12" fill="#B55D60"/>
<rect x="3130" y="1796" width="30" height="12" fill="#857AAB"/>
<rect x="3288" y="1711" width="30" height="12" fill="#8D7866"/>
<rect x="3288" y="1732" width="30" height="12" fill="#D095BF"/>
<rect x="3288" y="1753" width="30" height="12" fill="#8C8C8C"/>
<rect x="3288" y="1774" width="30" height="12" fill="#C1B37F"/>
<rect x="3288" y="1796" width="30" height="12" fill="#71AEC0"/>
</g>
<g font-size="14">
<text x="3171" y="1722" class="tk">MLLS:None</text>
<text x="3171" y="1743" class="tk">MLLS:TS</text>
<text x="3171" y="1764" class="tk">MLLS:NBVS</text>
<text x="3171" y="1785" class="tk">MLLS:BCTS</text>
<text x="3171" y="1807" class="tk">MLLS:VS</text>
<text x="3330" y="1722" class="tk">ELSA:None</text>
<text x="3330" y="1743" class="tk">ELSA:TS</text>
<text x="3330" y="1764" class="tk">ELSA:NBVS</text>
<text x="3330" y="1785" class="tk">ELSA:BCTS</text>
<text x="3330" y="1807" class="tk">ELSA:VS</text>
</g>
</g>
<text x="2443" y="2063" font-size="30" textLength="975" lengthAdjust="spacingAndGlyphs">Figure 3:MSE boxplots under calibrations for ELSA and MLLS on MNIST.</text>

<!-- Figure 4 -->
<text x="2424" y="2154" font-size="38" class="b" textLength="760" lengthAdjust="spacingAndGlyphs">ELSA Achieves the High Accuracy <tspan class="i">Fast</tspan></text>
<!-- 4a -->
<rect x="2651.5" y="2181" width="320" height="254.5" fill="#EAEAF2"/>
<path d="M2716.5 2181V2435.5M2783.1 2181V2435.5M2848.9 2181V2435.5M2914.7 2181V2435.5M2651.5 2206.5H2971.5M2651.5 2235.4H2971.5M2651.5 2264.6H2971.5M2651.5 2293.5H2971.5M2651.5 2323.1H2971.5M2651.5 2351.9H2971.5M2651.5 2381.2H2971.5M2651.5 2410H2971.5" stroke="#fff" stroke-width="1.5" fill="none"/>
<g stroke="#fff" stroke-width="0.8">
<rect x="2651.5" y="2192.3" width="24.9" height="28.4" fill="#D9A17E"/><rect x="2676.4" y="2192.3" width="6.1" height="28.4" fill="#7F95C5"/>
<rect x="2651.5" y="2221.2" width="52.2" height="28.4" fill="#D9A17E"/><rect x="2703.7" y="2221.2" width="252.6" height="28.4" fill="#7F95C5"/>
<rect x="2651.5" y="2250.4" width="65" height="28.4" fill="#D9A17E"/><rect x="2716.5" y="2250.4" width="160.4" height="28.4" fill="#7F95C5"/>
<rect x="2651.5" y="2279.3" width="59.7" height="28.4" fill="#D9A17E"/><rect x="2711.2" y="2279.3" width="96.8" height="28.4" fill="#7F95C5"/>
<rect x="2651.5" y="2308.9" width="28" height="28.4" fill="#D9A17E"/><rect x="2679.5" y="2308.9" width="6" height="28.4" fill="#7F95C5"/>
<rect x="2651.5" y="2337.7" width="28.7" height="28.4" fill="#D9A17E"/><rect x="2680.2" y="2337.7" width="6.1" height="28.4" fill="#7F95C5"/>
<rect x="2651.5" y="2367" width="68" height="28.4" fill="#D9A17E"/><rect x="2719.5" y="2367" width="5.3" height="28.4" fill="#7F95C5"/>
<rect x="2651.5" y="2395.8" width="55.2" height="28.4" fill="#D9A17E"/><rect x="2706.7" y="2395.8" width="64.3" height="28.4" fill="#7F95C5"/>
</g>
<g font-size="13" class="tk">
<text x="2484" y="2211" class="tk" textLength="157" lengthAdjust="spacingAndGlyphs">ELSA:None (MSE = 1.90E-04)</text>
<text x="2496" y="2240" class="tk" textLength="145" lengthAdjust="spacingAndGlyphs">MLLS:VS (MSE = 2.80E-04)</text>
<text x="2481" y="2269" class="tk" textLength="160" lengthAdjust="spacingAndGlyphs">MLLS:BCTS (MSE = 3.20E-04)</text>
<text x="2481" y="2298" class="tk" textLength="160" lengthAdjust="spacingAndGlyphs">MLLS:NBVS (MSE = 9.80E-04)</text>
<text x="2486" y="2328" class="tk" textLength="155" lengthAdjust="spacingAndGlyphs">RLLS:None (MSE = 1.81E-03)</text>
<text x="2484" y="2357" class="tk" textLength="157" lengthAdjust="spacingAndGlyphs">BBSE:None (MSE = 1.83E-03)</text>
<text x="2484" y="2386" class="tk" textLength="157" lengthAdjust="spacingAndGlyphs">MLLS:None (MSE = 1.62E-02)</text>
<text x="2497" y="2415" class="tk" textLength="144" lengthAdjust="spacingAndGlyphs">MLLS:TS (MSE = 1.79E-02)</text>
<g text-anchor="middle">
<text x="2651.5" y="2454" class="tk">0</text><text x="2716.5" y="2454" class="tk">5</text><text x="2783" y="2454" class="tk">10</text><text x="2849" y="2454" class="tk">15</text><text x="2915" y="2454" class="tk">20</text>
<text x="2811" y="2470" class="tk">Time / second</text>
</g>
<rect x="2872" y="2377" width="94" height="54" rx="3" fill="#EAEAF2" stroke="#D0D0D8"/>
<text x="2919" y="2391" text-anchor="middle" class="tk">Stage</text>
<rect x="2877" y="2400" width="22" height="8" fill="#7F95C5"/>
<rect x="2877" y="2416" width="22" height="8" fill="#D9A17E"/>
<text x="2908" y="2408" class="tk">calibration</text>
<text x="2908" y="2424" class="tk">adaptation</text>
</g>
<!-- 4b -->
<rect x="3047.8" y="2188.5" width="310.9" height="248" fill="#EAEAF2"/>
<path d="M3047.8 2193.1H3358.7M3047.8 2271.9H3358.7M3047.8 2351.9H3358.7M3047.8 2431.5H3358.7M3090.9 2188.5V2436.5M3159 2188.5V2436.5M3227.1 2188.5V2436.5M3295.2 2188.5V2436.5" stroke="#fff" stroke-width="1.5" fill="none"/>
<polyline points="3057.7,2199.2 3125.8,2277.3 3193.1,2278.8 3261.2,2277.3 3329.2,2277.7" fill="none" stroke="#DD8452" stroke-width="3" stroke-dasharray="9 4"/>
<polyline points="3057.7,2199.2 3074,2227 3085.6,2273 3100.8,2315 3112,2342 3125.8,2360.4 3146,2371 3169,2383 3193.1,2391.5 3222,2395 3261.2,2398.5 3297,2401 3329.2,2402.7" fill="none" stroke="#55A868" stroke-width="3" stroke-dasharray="2 3"/>
<polyline points="3057.7,2420.4 3125.8,2425.8 3193.1,2425.8 3261.2,2425.8 3329.2,2425.8" fill="none" stroke="#4C72B0" stroke-width="3"/>
<g fill="#DD8452"><circle cx="3057.7" cy="2199.2" r="3.5"/><circle cx="3125.8" cy="2277.3" r="3.5"/><circle cx="3193.1" cy="2278.8" r="3.5"/><circle cx="3261.2" cy="2277.3" r="3.5"/><circle cx="3329.2" cy="2277.7" r="3.5"/></g>
<g fill="#55A868"><circle cx="3057.7" cy="2199.2" r="3.5"/><circle cx="3125.8" cy="2360.4" r="3.5"/><circle cx="3193.1" cy="2391.5" r="3.5"/><circle cx="3261.2" cy="2398.5" r="3.5"/><circle cx="3329.2" cy="2402.7" r="3.5"/></g>
<g fill="#4C72B0"><circle cx="3057.7" cy="2420.4" r="3.5"/><circle cx="3125.8" cy="2425.8" r="3.5"/><circle cx="3193.1" cy="2425.8" r="3.5"/><circle cx="3261.2" cy="2425.8" r="3.5"/><circle cx="3329.2" cy="2425.8" r="3.5"/></g>
<g font-size="12" class="tk">
<text x="3059" y="2197" class="tk">0.98 s</text>
<text x="3061" y="2197" class="tk" fill-opacity="0.7">0.87 s</text>
<text x="3127" y="2273" class="tk">1.34 s</text>
<text x="3195" y="2275" class="tk">1.86 s</text>
<text x="3263" y="2274" class="tk">1.85 s</text>
<text x="3331" y="2274" class="tk">2.32 s</text>
<text x="3127" y="2357" class="tk">11.06 s</text>
<text x="3195" y="2388" class="tk">11.24 s</text>
<text x="3263" y="2395" class="tk">11.44 s</text>
<text x="3331" y="2399" class="tk">11.64 s</text>
<text x="3059" y="2417" class="tk">1.12 s</text>
<text x="3127" y="2422" class="tk">1.33 s</text>
<text x="3195" y="2422" class="tk">1.64 s</text>
<text x="3263" y="2422" class="tk">1.91 s</text>
<text x="3331" y="2422" class="tk">2.19 s</text>
<text x="3015" y="2197" class="tk">10<tspan class="sp">−1</tspan></text>
<text x="3015" y="2276" class="tk">10<tspan class="sp">−2</tspan></text>
<text x="3015" y="2356" class="tk">10<tspan class="sp">−3</tspan></text>
<text x="3015" y="2436" class="tk">10<tspan class="sp">−4</tspan></text>
<g text-anchor="middle">
<text x="3091" y="2454" class="tk">2</text><text x="3159" y="2454" class="tk">4</text><text x="3227" y="2454" class="tk">6</text><text x="3295" y="2454" class="tk">8</text>
<text x="3204" y="2469" class="tk">Iteration</text>
</g>
<text transform="translate(3007 2313) rotate(-90)" text-anchor="middle" class="tk">MSE</text>
<rect x="3252" y="2193" width="102" height="67" rx="3" fill="#EAEAF2" fill-opacity="0.9" stroke="#D0D0D8"/>
<text x="3303" y="2207" text-anchor="middle" class="tk">Method</text>
<line x1="3256" y1="2219" x2="3279" y2="2219" stroke="#4C72B0" stroke-width="2.5"/><circle cx="3267.5" cy="2219" r="3" fill="#4C72B0"/>
<line x1="3256" y1="2235" x2="3279" y2="2235" stroke="#DD8452" stroke-width="2.5" stroke-dasharray="5 2"/><circle cx="3267.5" cy="2235" r="3" fill="#DD8452"/>
<line x1="3256" y1="2251" x2="3279" y2="2251" stroke="#55A868" stroke-width="2.5" stroke-dasharray="1.5 2"/><circle cx="3267.5" cy="2251" r="3" fill="#55A868"/>
<text x="3288" y="2223" class="tk">ELSA:None</text>
<text x="3288" y="2239" class="tk">MLLS:None</text>
<text x="3288" y="2255" class="tk">MLLS:BCTS</text>
</g>
<text x="2745" y="2529" font-size="30" text-anchor="middle">(a)</text>
<text x="3207" y="2529" font-size="30" text-anchor="middle">(b)</text>
<text x="2424" y="2567" font-size="30" textLength="1013" lengthAdjust="spacingAndGlyphs">Figure 4:(a) stacked barplot for the computation times and (b) MSE vs iteration</text>
<text x="2424" y="2613" font-size="30" textLength="180" lengthAdjust="spacingAndGlyphs">on CIFAR-10.</text>
</svg>
</body></html>
